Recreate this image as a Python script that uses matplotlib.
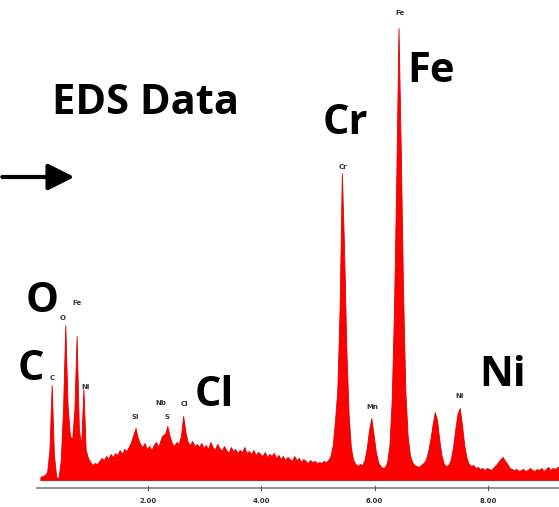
import numpy as np
import matplotlib.pyplot as plt

# EDS spectrum, one value per 0.04 keV channel starting at 0.10 keV
e_start = 0.10
e_step = 0.04
counts = [
    3, 4, 5, 8, 30, 95, 25, 3, 2, 20,
    70, 155, 75, 45, 40, 70, 144, 50, 35, 91,
    30, 22, 18, 15, 17, 16, 19, 22, 20, 24,
    21, 26, 23, 27, 25, 30, 26, 31, 29, 33,
    38, 45, 52, 42, 36, 33, 37, 31, 34, 30,
    35, 38, 33, 40, 45, 46, 54, 44, 37, 34,
    38, 36, 44, 64, 48, 38, 35, 39, 34, 36,
    33, 37, 32, 35, 31, 38, 33, 30, 36, 32,
    29, 34, 30, 27, 33, 29, 31, 27, 30, 28,
    33, 27, 29, 26, 30, 25, 28, 26, 24, 28,
    23, 26, 24, 27, 22, 25, 21, 24, 20, 23,
    21, 19, 24, 20, 22, 18, 21, 19, 17, 20,
    18, 19, 17, 18, 17, 19, 18, 20, 24, 35,
    60, 90, 170, 307, 230, 130, 65, 32, 20, 16,
    14, 16, 15, 20, 32, 50, 62, 45, 28, 18,
    14, 12, 13, 18, 35, 80, 170, 300, 452, 330,
    190, 90, 45, 25, 18, 15, 14, 13, 15, 17,
    20, 28, 40, 55, 68, 60, 40, 24, 16, 14,
    15, 20, 32, 50, 66, 72, 55, 35, 22, 16,
    14, 15, 12, 13, 11, 12, 10, 12, 11, 10,
    13, 15, 18, 21, 23, 19, 16, 12, 11, 10,
    11, 9, 10, 11, 9, 10, 12, 10, 9, 11,
    10, 12, 9, 11, 13, 10, 12, 11, 13, 12,
]
energy = e_start + e_step * np.arange(len(counts))

# small peak markers (label, energy keV, label height)
marker_names = ['C', 'O', 'Fe', 'Ni', 'Si', 'Nb', 'S', 'Cl', 'Cr', 'Mn', 'Fe', 'Ni']
marker_e = [0.31, 0.50, 0.75, 0.89, 1.77, 2.23, 2.33, 2.65, 5.44, 5.95, 6.45, 7.49]
marker_y = [102, 162, 177, 93, 63, 77, 63, 76, 313, 73, 467, 84]

# large annotations
big_names = ['C', 'O', 'Cl', 'Cr', 'Fe', 'Ni']
big_e = [-0.07, 0.13, 3.16, 5.48, 7.00, 8.25]
big_y = [110, 178, 85, 357, 408, 104]

ticks = [2, 4, 6, 8]
tick_labels = ['2.00', '4.00', '6.00', '8.00']

fig = plt.figure(figsize=(5.59, 5.07), dpi=100)
ax = fig.add_axes([0, 0, 1, 1])
ax.set_xlim(-0.612, 9.252)
ax.set_ylim(-27, 480)
ax.axis('off')

ax.fill_between(energy, 0, counts, color='#ff0000', linewidth=0.6, edgecolor='#e00000')

# energy axis
ax.plot([0.04, 9.252], [-8, -8], color='#808080', lw=1.2)
for t, lab in zip(ticks, tick_labels):
    ax.plot([t, t], [-10, -6], color='#555555', lw=0.8)
    ax.text(t, -21, lab, ha='center', va='center', fontsize=5, fontweight='bold', color='#333333')

for name, e, y in zip(marker_names, marker_e, marker_y):
    ax.text(e, y, name, ha='center', va='center', fontsize=5, fontweight='bold', color='#333333')

for name, e, y in zip(big_names, big_e, big_y):
    ax.text(e, y, name, ha='center', va='center', fontsize=30, fontweight='bold',
            family='Open Sans', color='black')

ax.text(1.95, 377, 'EDS Data', ha='center', va='center', fontsize=30, fontweight='bold',
        family='Open Sans', color='black')

ax.annotate('', xy=(0.75, 303), xytext=(-0.62, 303),
            arrowprops=dict(arrowstyle='-|>,head_length=1.6,head_width=0.8', lw=3, color='black'))

plt.savefig('out.png', dpi=100)
